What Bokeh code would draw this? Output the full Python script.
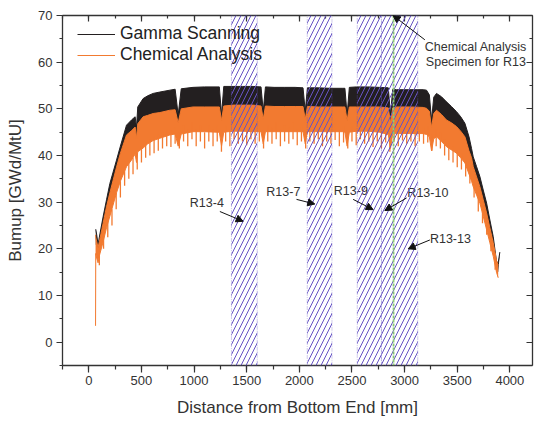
from bokeh.plotting import figure
from bokeh.models import (Range1d, LinearAxis, SingleIntervalTicker, BoxAnnotation,
                          Span, Arrow, NormalHead, Legend, LegendItem, ColumnDataSource)
from bokeh.core.properties import value
from bokeh.embed import file_html
from bokeh.resources import INLINE

# ---------------- data ----------------
gamma_x = [66, 75, 88, 100, 136, 168, 200, 263, 300, 358, 405, 440, 453, 465, 516, 560, 611, 675,
           770, 820, 849, 878, 990, 1100, 1218, 1240, 1261, 1282, 1370, 1460, 1560, 1636, 1657, 1678,
           1760, 1860, 1960, 2035, 2056, 2077, 2180, 2290, 2413, 2433, 2454, 2475, 2543, 2650, 2760,
           2845, 2866, 2887, 2924, 3050, 3177, 3208, 3235, 3256, 3277, 3303, 3350, 3398, 3445, 3493,
           3533, 3573, 3612, 3636, 3652, 3684, 3715, 3747, 3779, 3810, 3842, 3873, 3889, 3905]
gamma_hi = [24.2, 23.0, 20.9, 22.5, 26.9, 30.5, 34.0, 39.0, 42.0, 46.5, 47.6, 48.3, 46.0, 50.4, 52.2, 52.8, 53.3, 53.6,
            54.0, 54.2, 48.7, 54.3, 54.6, 54.7, 54.7, 54.7, 48.7, 54.8, 54.8, 54.8, 54.8, 54.7, 49.5, 54.7,
            54.6, 54.6, 54.6, 54.5, 49.5, 54.5, 54.5, 54.4, 54.4, 54.4, 48.7, 54.6, 54.7, 54.7, 54.6,
            54.5, 48.7, 54.2, 54.1, 54.1, 54.1, 54.0, 53.0, 47.6, 52.5, 53.3, 52.6, 51.5, 50.5, 49.4,
            48.3, 46.9, 44.0, 41.5, 39.7, 37.6, 35.5, 32.6, 29.8, 26.2, 22.6, 17.3, 17.0, 19.3]
gamma_lo = [21.0, 20.0, 19.0, 20.5, 24.5, 27.5, 30.5, 35.5, 38.5, 42.0, 43.0, 44.0, 42.0, 44.5, 46.0, 46.5, 47.0, 47.2,
            47.7, 47.8, 45.0, 48.0, 48.4, 48.4, 48.4, 48.4, 45.5, 48.6, 48.8, 48.8, 48.8, 48.6, 46.0, 48.6,
            48.5, 48.5, 48.5, 48.5, 46.0, 48.5, 48.4, 48.4, 48.4, 48.4, 45.5, 48.4, 48.6, 48.6, 48.4,
            48.2, 45.0, 48.2, 48.4, 48.4, 48.3, 48.1, 47.5, 44.5, 47.0, 47.7, 46.8, 45.6, 45.0, 44.2,
            43.2, 42.0, 39.0, 37.5, 35.6, 33.4, 31.3, 28.5, 25.7, 22.5, 19.3, 16.0, 15.0, 19.0]

chem_x = [64, 66, 75, 88, 100, 136, 168, 200, 263, 300, 358, 405, 440, 453, 465, 516, 560, 611, 675,
          770, 820, 849, 878, 990, 1100, 1218, 1240, 1261, 1282, 1370, 1460, 1560, 1636, 1657, 1678,
          1760, 1860, 1960, 2035, 2056, 2077, 2180, 2290, 2413, 2433, 2454, 2475, 2543, 2650, 2760,
          2845, 2866, 2887, 2924, 3050, 3177, 3208, 3235, 3256, 3277, 3303, 3350, 3398, 3445, 3493,
          3533, 3573, 3612, 3636, 3652, 3684, 3715, 3747, 3779, 3810, 3842, 3873, 3889]
chem_hi = [23.0, 22.5, 21.5, 20.3, 21.5, 25.5, 29.0, 32.0, 37.5, 40.5, 44.4, 45.3, 46.1, 43.7, 46.8, 48.3, 48.6, 49.0, 49.2,
           49.7, 49.8, 47.0, 50.0, 50.4, 50.4, 50.4, 50.4, 47.5, 50.6, 50.8, 50.8, 50.8, 50.6, 47.8, 50.6,
           50.5, 50.5, 50.5, 50.5, 47.8, 50.5, 50.4, 50.4, 50.4, 50.4, 47.5, 50.4, 50.4, 50.4, 50.4,
           50.2, 47.0, 50.2, 50.4, 50.4, 50.3, 50.1, 49.5, 46.0, 49.0, 49.7, 48.8, 47.6, 47.0, 46.2,
           45.2, 44.0, 41.0, 39.5, 37.6, 35.4, 33.3, 30.5, 27.7, 24.5, 21.3, 17.5, 16.5]
chem_lo = [3.5, 19.0, 18.0, 17.0, 18.5, 21.5, 24.5, 27.0, 32.0, 34.5, 37.6, 39.0, 40.3, 38.5, 40.8, 41.6, 42.5, 43.2, 43.7,
           44.4, 44.6, 42.0, 44.6, 45.1, 45.1, 45.0, 45.0, 42.0, 45.0, 45.2, 45.2, 45.1, 45.1, 42.5, 45.1,
           45.1, 45.1, 45.1, 45.1, 42.5, 45.1, 45.1, 45.1, 45.1, 45.0, 42.0, 45.0, 45.2, 45.2, 45.0,
           44.5, 41.5, 44.6, 44.7, 44.7, 44.7, 44.5, 44.0, 41.0, 43.6, 44.0, 43.0, 41.9, 41.2, 40.5,
           39.5, 38.4, 36.0, 34.5, 33.3, 31.5, 29.8, 27.0, 24.1, 21.3, 18.4, 15.0, 13.8]

# downward pellet spikes of the chemical-analysis curve
spike_x = list(range(100, 3861, 40))
spike_lo = [16.5, 20.0, 22.5, 25.0, 28.5, 31.0, 33.5, 35.0, 36.0, 37.0,
            38.5, 39.5, 40.0, 40.5, 41.0, 41.5, 42.0, 41.8, 42.5, 41.5,
            43.0, 42.0, 43.5, 42.0, 43.0, 41.5, 43.0, 42.0, 43.0, 40.8,
            43.0, 42.0, 43.5, 42.5, 43.0, 42.2, 43.5, 42.5, 43.0, 41.5,
            43.0, 42.5, 43.5, 42.0, 43.0, 42.5, 43.5, 42.2, 43.0, 41.5,
            43.0, 42.5, 43.5, 42.0, 43.0, 42.5, 43.3, 42.0, 42.8, 41.5,
            43.0, 42.2, 43.5, 42.5, 43.0, 41.8, 43.0, 41.5, 42.8, 40.8,
            43.0, 42.0, 43.2, 42.5, 43.0, 42.0, 43.0, 42.5, 42.8, 41.0,
            42.0, 41.5, 40.0, 39.0, 38.5, 37.5, 37.0, 35.5, 34.0, 31.0,
            28.0, 25.5, 23.0, 19.5, 15.5]

zone_left = [1355, 2075, 2550, 2780]
zone_right = [1600, 2310, 2780, 3125]
specimen_x = 2895

label_text = ["R13-4", "R13-7", "R13-9", "R13-10", "R13-13"]
label_x = [1121, 1848, 2489, 3221, 3435]
label_y = [29.85, 32.2, 32.4, 32.0, 22.1]
arrow_x0 = [1245, 1973, 2511, 3019, 3240]
arrow_y0 = [28.0, 30.6, 30.6, 30.9, 21.9]
arrow_x1 = [1466, 2147, 2701, 2812, 3034]
arrow_y1 = [25.9, 29.6, 28.4, 28.2, 20.0]

note_text = ["Chemical Analysis", "Specimen for R13"]
note_x = [3677, 3677]
note_y = [63.2, 60.0]
note_arrow = dict(x0=[3192], y0=[64.8], x1=[2891], y1=[70.0])

x_ticks_interval = 500
y_ticks_interval = 10

# ---------------- styles ----------------
FONT = "Liberation Sans"
BLACK = "#231f20"
ORANGE = "#f27a30"
PURPLE = "#6552c4"
TXT = "#333333"

p = figure(width=534, height=421, output_backend="svg", toolbar_location=None,
           x_range=Range1d(-250, 4215), y_range=Range1d(-5, 70),
           min_border_left=62, min_border_right=2, min_border_top=15, min_border_bottom=56)
p.outline_line_color = None
p.xgrid.visible = False
p.ygrid.visible = False
p.background_fill_color = "white"

# gamma scanning band
p.varea(x=gamma_x, y1=gamma_lo, y2=gamma_hi, fill_color=BLACK)
g_line = p.line(gamma_x, gamma_hi, line_color=BLACK, line_width=1)

# chemical analysis band + spikes
p.varea(x=chem_x, y1=chem_lo, y2=chem_hi, fill_color=ORANGE)
c_line = p.line(chem_x, chem_hi, line_color=ORANGE, line_width=1)
p.line(chem_x, chem_lo, line_color=ORANGE, line_width=1)
p.segment(x0=spike_x, y0=spike_lo, x1=spike_x, y1=[v + 3.5 for v in spike_lo],
          line_color=ORANGE, line_width=1.3)

# hatched specimen zones
for l, r in zip(zone_left, zone_right):
    p.add_layout(BoxAnnotation(left=l, right=r, fill_alpha=0, fill_color=None,
                               hatch_pattern="/", hatch_color=PURPLE, hatch_scale=10,
                               hatch_weight=1, line_color=PURPLE, line_width=1,
                               line_dash="4 1 1 1"))
p.add_layout(Span(location=specimen_x, dimension="height", line_color="#8cc878",
                  line_width=1.8, line_dash="3 1"))

# labels and arrows
p.text(x=label_x, y=label_y, text=label_text, text_align="center", text_baseline="middle",
       text_font=value(FONT), text_font_size="12.5px", text_color=TXT)
p.add_layout(Arrow(end=NormalHead(size=7, fill_color="#111111", line_color="#111111"),
                   source=ColumnDataSource(dict(x0=arrow_x0, y0=arrow_y0, x1=arrow_x1, y1=arrow_y1)),
                   x_start="x0", y_start="y0", x_end="x1", y_end="y1",
                   line_color="#111111", line_width=1))
p.text(x=note_x, y=note_y, text=note_text, text_align="center", text_baseline="middle",
       text_font=value(FONT), text_font_size="12.5px", text_color=TXT)
p.add_layout(Arrow(end=NormalHead(size=7, fill_color="#111111", line_color="#111111"),
                   source=ColumnDataSource(note_arrow),
                   x_start="x0", y_start="y0", x_end="x1", y_end="y1",
                   line_color="#111111", line_width=1))

# axes
xt = SingleIntervalTicker(interval=x_ticks_interval, num_minor_ticks=2)
yt = SingleIntervalTicker(interval=y_ticks_interval, num_minor_ticks=2)
for ax, t in ((p.xaxis[0], xt), (p.yaxis[0], yt)):
    ax.ticker = t
    ax.axis_line_color = TXT
    ax.axis_line_width = 1.3
    ax.major_tick_line_color = TXT
    ax.minor_tick_line_color = TXT
    ax.major_tick_line_width = 1.2
    ax.minor_tick_line_width = 1.2
    ax.major_tick_in = 0
    ax.minor_tick_in = 0
    ax.major_label_text_font = FONT
    ax.major_label_text_font_size = "13px"
    ax.major_label_text_color = TXT
    ax.axis_label_text_font = FONT
    ax.axis_label_text_font_size = "17px"
    ax.axis_label_text_font_style = "normal"
    ax.axis_label_text_color = TXT
p.xaxis[0].major_tick_out = 7
p.xaxis[0].minor_tick_out = 4
p.xaxis[0].major_label_standoff = 3
p.xaxis[0].axis_label = "Distance from Bottom End [mm]"
p.xaxis[0].axis_label_standoff = 10
p.yaxis[0].major_tick_out = 6
p.yaxis[0].minor_tick_out = 3
p.yaxis[0].major_label_standoff = 4
p.yaxis[0].axis_label = "Bumup [GWd/MtU]"
p.yaxis[0].axis_label_standoff = 10

for side, t in (("above", xt), ("right", yt)):
    ax = LinearAxis(ticker=t, major_label_text_font_size="1px", major_label_text_color=None,
                    major_label_standoff=0,
                    axis_line_color=TXT, axis_line_width=1.3,
                    major_tick_line_color=TXT, minor_tick_line_color=TXT,
                    major_tick_line_width=1.2, minor_tick_line_width=1.2,
                    major_tick_in=6, major_tick_out=0, minor_tick_in=3, minor_tick_out=0)
    p.add_layout(ax, side)

legend = Legend(items=[LegendItem(label="Gamma Scanning", renderers=[g_line]),
                       LegendItem(label="Chemical Analysis", renderers=[c_line])],
                location=(15, 300), padding=0, margin=0, spacing=0,
                label_height=20, glyph_height=20, glyph_width=38, label_standoff=5,
                label_text_font=FONT, label_text_font_size="17.5px", label_text_color="#222222",
                border_line_color=None, background_fill_alpha=0)
p.add_layout(legend)

open("out.html", "w").write(file_html(p, INLINE))
